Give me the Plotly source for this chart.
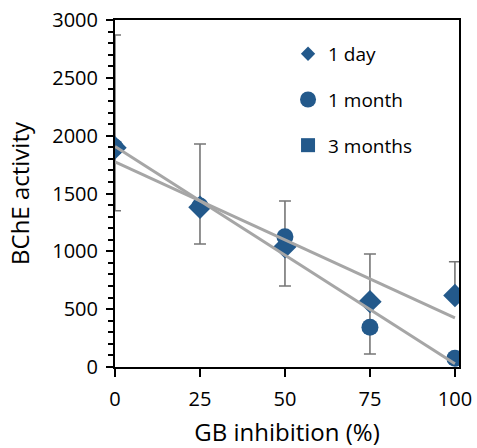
import numpy as np
import plotly.graph_objects as go

inhibition = [0, 25, 50, 75, 100]
day1 = [1896, 1381, 1040, 565, 618]
month1 = [1900, 1392, 1127, 343, 75]
months3 = [None, None, None, None, None]
err_plus = [974, 547, 395, 412, 292]
err_minus = [545, 318, 340, 453, 0]
series_names = ["1 day", "1 month", "3 months"]

BLUE = "#23598B"
GRAY_LINE = "#A6A6A6"
FONT = "Open Sans"

fig = go.Figure()

fig.add_trace(go.Scatter(
    x=inhibition, y=day1, mode="markers", name=series_names[0], showlegend=False,
    marker=dict(symbol="diamond", size=18, color=BLUE),
    error_y=dict(type="data", symmetric=False, array=err_plus, arrayminus=err_minus,
                 color="#767676", thickness=1.6, width=6),
))
fig.add_trace(go.Scatter(
    x=inhibition, y=month1, mode="markers", name=series_names[1], showlegend=False,
    marker=dict(symbol="circle", size=17, color=BLUE),
))
fig.add_trace(go.Scatter(
    x=inhibition, y=months3, mode="markers", name=series_names[2], showlegend=False,
    marker=dict(symbol="square", size=15, color=BLUE),
))

# linear trendlines
for series in (day1, month1):
    m, b = np.polyfit(inhibition, series, 1)
    xs = [inhibition[0], inhibition[-1]]
    fig.add_trace(go.Scatter(
        x=xs, y=[m * v + b for v in xs], mode="lines",
        line=dict(color=GRAY_LINE, width=3), showlegend=False, hoverinfo="skip",
    ))

# legend entries (legend-only, sized like the reference's legend keys)
for name, sym, sz, grp in zip(series_names, ["diamond", "circle", "square"], [11, 16, 14], ["a", "b", "c"]):
    fig.add_trace(go.Scatter(
        x=[None], y=[None], mode="markers", name=name, legendgroup=grp,
        marker=dict(symbol=sym, size=sz, color=BLUE), hoverinfo="skip",
    ))

fig.update_layout(
    width=477, height=448,
    margin=dict(l=115, r=18, t=20, b=81),
    paper_bgcolor="white", plot_bgcolor="white",
    font=dict(family=FONT, size=20, color="black"),
    showlegend=True,
    legend=dict(x=0.503, y=0.957, xanchor="left", yanchor="top",
                bgcolor="rgba(0,0,0,0)", traceorder="grouped", tracegroupgap=18,
                font=dict(size=19)),
)
fig.update_xaxes(
    range=[0, 101.2], tickvals=[0, 25, 50, 75, 100],
    showgrid=False, zeroline=False, automargin=False,
    showline=True, linecolor="black", linewidth=2, mirror=True,
    ticks="outside", ticklen=8, tickwidth=2, tickcolor="black",
    ticklabelstandoff=5,
    title=dict(text="GB inhibition (%)", standoff=15),
)
fig.update_yaxes(
    range=[0, 3000], dtick=500,
    showgrid=False, zeroline=False, automargin=False,
    showline=True, linecolor="black", linewidth=2, mirror=True,
    ticks="outside", ticklen=7, tickwidth=2, tickcolor="black",
    minor=dict(dtick=100, ticks="outside", ticklen=5, tickwidth=2, tickcolor="black", showgrid=False),
    ticklabelstandoff=4,
    title=dict(text="BChE activity", standoff=16),
)

fig.write_html(
    "out.html",
    config={"displayModeBar": False},
    post_script="document.body.style.margin='0';document.body.style.overflow='hidden';",
)
